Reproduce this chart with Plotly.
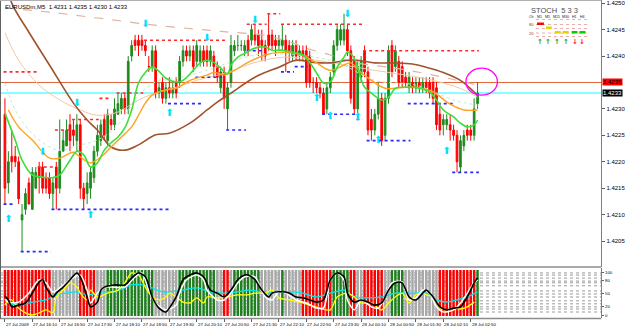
import plotly.graph_objects as go

W, H = 625, 327


def px(v):
    return v / W


def py(v):
    return 1 - v / H


# ---------------- candles (EURUSDm, M5) ----------------
bars = list(range(139))
opens = [
    1.4229, 1.4216, 1.4221, 1.4221, 1.4220, 1.4209, 1.4211, 1.4216, 1.4211, 1.4215,
    1.4219, 1.4219, 1.4217, 1.4217, 1.4214, 1.4219, 1.4215, 1.4222, 1.4223, 1.4227,
    1.4226, 1.4224, 1.4227, 1.4215, 1.4214, 1.4215, 1.4217, 1.4222, 1.4224, 1.4228,
    1.4224, 1.4228, 1.4227, 1.4229, 1.4230, 1.4232, 1.4230, 1.4240, 1.4243, 1.4243,
    1.4243, 1.4242, 1.4238, 1.4238, 1.4241, 1.4233, 1.4235, 1.4232, 1.4234, 1.4233,
    1.4235, 1.4235, 1.4239, 1.4241, 1.4240, 1.4241, 1.4239, 1.4239, 1.4241, 1.4241,
    1.4239, 1.4240, 1.4238, 1.4234, 1.4237, 1.4230, 1.4235, 1.4241, 1.4242, 1.4242,
    1.4241, 1.4243, 1.4243, 1.4244, 1.4244, 1.4243, 1.4242, 1.4244, 1.4244, 1.4243,
    1.4242, 1.4242, 1.4243, 1.4242, 1.4240, 1.4242, 1.4240, 1.4241, 1.4241, 1.4240,
    1.4235, 1.4235, 1.4234, 1.4233, 1.4230, 1.4234, 1.4237, 1.4242, 1.4243, 1.4243,
    1.4245, 1.4241, 1.4239, 1.4230, 1.4236, 1.4241, 1.4237, 1.4228, 1.4226, 1.4229,
    1.4232, 1.4225, 1.4232, 1.4242, 1.4238, 1.4239, 1.4238, 1.4236, 1.4234, 1.4235,
    1.4234, 1.4235, 1.4234, 1.4235, 1.4235, 1.4235, 1.4234, 1.4229, 1.4227, 1.4227,
    1.4227, 1.4226, 1.4225, 1.4219, 1.4223, 1.4226, 1.4226, 1.4225, 1.4231,
]
highs = [
    1.4232, 1.4222, 1.4226, 1.4223, 1.4221, 1.4212, 1.4215, 1.4217, 1.4219, 1.4219,
    1.4220, 1.4220, 1.4218, 1.4218, 1.4217, 1.4220, 1.4228, 1.4226, 1.4228, 1.4229,
    1.4228, 1.4229, 1.4228, 1.4216, 1.4218, 1.4219, 1.4223, 1.4227, 1.4228, 1.4229,
    1.4230, 1.4229, 1.4232, 1.4233, 1.4233, 1.4233, 1.4240, 1.4243, 1.4244, 1.4244,
    1.4244, 1.4243, 1.4240, 1.4242, 1.4242, 1.4235, 1.4236, 1.4235, 1.4236, 1.4235,
    1.4236, 1.4240, 1.4242, 1.4242, 1.4242, 1.4242, 1.4243, 1.4242, 1.4242, 1.4242,
    1.4242, 1.4241, 1.4239, 1.4238, 1.4238, 1.4235, 1.4244, 1.4243, 1.4244, 1.4243,
    1.4243, 1.4244, 1.4246, 1.4246, 1.4245, 1.4245, 1.4243, 1.4248, 1.4245, 1.4244,
    1.4244, 1.4246, 1.4244, 1.4243, 1.4243, 1.4243, 1.4242, 1.4242, 1.4242, 1.4241,
    1.4236, 1.4236, 1.4235, 1.4234, 1.4235, 1.4237, 1.4243, 1.4246, 1.4246, 1.4248,
    1.4246, 1.4242, 1.4240, 1.4239, 1.4240, 1.4242, 1.4238, 1.4230, 1.4230, 1.4235,
    1.4233, 1.4233, 1.4242, 1.4243, 1.4242, 1.4240, 1.4239, 1.4237, 1.4237, 1.4236,
    1.4236, 1.4236, 1.4236, 1.4236, 1.4236, 1.4236, 1.4235, 1.4231, 1.4229, 1.4229,
    1.4229, 1.4227, 1.4226, 1.4225, 1.4226, 1.4227, 1.4227, 1.4232, 1.4235,
]
lows = [
    1.4212, 1.4214, 1.4218, 1.4219, 1.4212, 1.4203, 1.4210, 1.4212, 1.4211, 1.4215,
    1.4214, 1.4214, 1.4214, 1.4213, 1.4211, 1.4211, 1.4214, 1.4222, 1.4223, 1.4222,
    1.4223, 1.4222, 1.4213, 1.4211, 1.4212, 1.4213, 1.4216, 1.4221, 1.4223, 1.4224,
    1.4223, 1.4226, 1.4226, 1.4229, 1.4229, 1.4229, 1.4229, 1.4239, 1.4241, 1.4240,
    1.4241, 1.4240, 1.4237, 1.4237, 1.4232, 1.4232, 1.4231, 1.4231, 1.4232, 1.4232,
    1.4232, 1.4234, 1.4238, 1.4239, 1.4239, 1.4237, 1.4238, 1.4238, 1.4238, 1.4238,
    1.4238, 1.4236, 1.4235, 1.4233, 1.4230, 1.4226, 1.4234, 1.4240, 1.4241, 1.4241,
    1.4240, 1.4240, 1.4242, 1.4242, 1.4240, 1.4239, 1.4239, 1.4241, 1.4241, 1.4240,
    1.4241, 1.4241, 1.4237, 1.4239, 1.4239, 1.4239, 1.4239, 1.4239, 1.4234, 1.4234,
    1.4233, 1.4233, 1.4232, 1.4229, 1.4229, 1.4233, 1.4236, 1.4241, 1.4242, 1.4242,
    1.4240, 1.4231, 1.4229, 1.4228, 1.4235, 1.4236, 1.4225, 1.4224, 1.4225, 1.4228,
    1.4223, 1.4224, 1.4231, 1.4236, 1.4237, 1.4234, 1.4234, 1.4234, 1.4233, 1.4233,
    1.4233, 1.4233, 1.4233, 1.4233, 1.4232, 1.4231, 1.4226, 1.4225, 1.4225, 1.4226,
    1.4224, 1.4224, 1.4218, 1.4218, 1.4222, 1.4224, 1.4224, 1.4224, 1.4230,
]
closes = [
    1.4215, 1.4220, 1.4220, 1.4220, 1.4213, 1.4210, 1.4214, 1.4212, 1.4218, 1.4218,
    1.4217, 1.4215, 1.4215, 1.4214, 1.4216, 1.4215, 1.4222, 1.4224, 1.4226, 1.4224,
    1.4225, 1.4227, 1.4215, 1.4213, 1.4216, 1.4218, 1.4222, 1.4225, 1.4227, 1.4225,
    1.4229, 1.4227, 1.4230, 1.4231, 1.4232, 1.4230, 1.4239, 1.4242, 1.4242, 1.4242,
    1.4242, 1.4241, 1.4238, 1.4241, 1.4233, 1.4234, 1.4232, 1.4234, 1.4233, 1.4234,
    1.4233, 1.4239, 1.4241, 1.4240, 1.4241, 1.4238, 1.4242, 1.4241, 1.4239, 1.4239,
    1.4241, 1.4238, 1.4236, 1.4237, 1.4232, 1.4234, 1.4242, 1.4242, 1.4242, 1.4242,
    1.4242, 1.4241, 1.4245, 1.4243, 1.4242, 1.4242, 1.4240, 1.4242, 1.4242, 1.4242,
    1.4243, 1.4243, 1.4241, 1.4241, 1.4242, 1.4240, 1.4241, 1.4240, 1.4235, 1.4235,
    1.4235, 1.4234, 1.4233, 1.4229, 1.4234, 1.4236, 1.4242, 1.4245, 1.4245, 1.4245,
    1.4241, 1.4232, 1.4230, 1.4238, 1.4239, 1.4237, 1.4226, 1.4226, 1.4229, 1.4232,
    1.4224, 1.4232, 1.4241, 1.4237, 1.4241, 1.4235, 1.4235, 1.4235, 1.4236, 1.4234,
    1.4235, 1.4234, 1.4235, 1.4234, 1.4233, 1.4232, 1.4227, 1.4226, 1.4228, 1.4228,
    1.4226, 1.4225, 1.4220, 1.4224, 1.4225, 1.4225, 1.4225, 1.4230, 1.4233,
]

# ---------------- moving averages (read at selected bars) ----------------
ma_fast_x = [0, 3, 5, 8, 11, 14, 16, 19, 21, 23, 25, 27, 29, 31, 33, 35, 37, 39, 41, 43,
             45, 47, 50, 52, 55, 57, 59, 61, 63, 65, 66, 68, 70, 73, 76, 78, 81, 84, 87, 89,
             91, 93, 95, 97, 99, 100, 102, 103, 105, 107, 110, 112, 114, 117, 121, 124, 126, 128, 131, 133,
             135, 137, 138]
ma_fast_y = [1.42292, 1.42241, 1.42203, 1.42175, 1.42171, 1.42170, 1.42175, 1.42203, 1.42220, 1.42213,
             1.42190, 1.42198, 1.42222, 1.42236, 1.42247, 1.42264, 1.42298, 1.42349, 1.42369, 1.42379,
             1.42371, 1.42358, 1.42351, 1.42354, 1.42373, 1.42387, 1.42392, 1.42388, 1.42377, 1.42366,
             1.42383, 1.42398, 1.42405, 1.42415, 1.42417, 1.42411, 1.42411, 1.42407, 1.42402, 1.42388,
             1.42368, 1.42349, 1.42351, 1.42379, 1.42398, 1.42407, 1.42396, 1.42377, 1.42341, 1.42330,
             1.42317, 1.42322, 1.42339, 1.42341, 1.42339, 1.42332, 1.42317, 1.42298, 1.42285, 1.42273,
             1.42266, 1.42270, 1.42279]

ma_mid_x = [1, 4, 8, 13, 16, 20, 22, 25, 28, 31, 34, 37, 39, 41, 43, 47, 50, 54, 59, 61,
            64, 67, 71, 76, 80, 85, 88, 91, 95, 99, 101, 104, 107, 111, 117, 120, 125, 130, 134, 138]
ma_mid_y = [1.42298, 1.42266, 1.42241, 1.42207, 1.42207, 1.42218, 1.42209, 1.42198, 1.42209, 1.42228,
            1.42247, 1.42266, 1.42288, 1.42311, 1.42326, 1.42336, 1.42339, 1.42354, 1.42364, 1.42369,
            1.42364, 1.42373, 1.42388, 1.42402, 1.42407, 1.42405, 1.42398, 1.42387, 1.42373, 1.42383,
            1.42387, 1.42369, 1.42354, 1.42339, 1.42341, 1.42341, 1.42332, 1.42309, 1.42298, 1.42298]

ma_tan_x = [0, 4, 10, 16, 22, 27, 33, 39, 45, 50, 56, 65, 73, 82, 91, 99, 108, 117, 125, 134, 138]
ma_tan_y = [1.42444, 1.42392, 1.42345, 1.42317, 1.42298, 1.42288, 1.42294, 1.42317, 1.42332, 1.42341,
            1.42354, 1.42369, 1.42388, 1.42398, 1.42392, 1.42383, 1.42373, 1.42364, 1.42354, 1.42336,
            1.42322]

ma_slow_x = [0, 2, 7, 13, 20, 24, 27, 31, 35, 39, 44, 48, 54, 59, 62, 66, 73, 80, 85, 90,
             95, 100, 103, 108, 112, 114, 119, 123, 128, 133, 137, 138]
ma_slow_y = [1.42550, 1.42500, 1.42445, 1.42383, 1.42311, 1.42279, 1.42260, 1.42228, 1.42222, 1.42232,
             1.42251, 1.42254, 1.42273, 1.42298, 1.42313, 1.42330, 1.42360, 1.42379, 1.42392, 1.42388,
             1.42387, 1.42392, 1.42392, 1.42387, 1.42387, 1.42387, 1.42385, 1.42379, 1.42369, 1.42354,
             1.42332, 1.42326]

ma_long_x = [0, 13, 27, 43, 59, 66, 75, 83, 88, 95, 102, 114, 125, 138]
ma_long_y = [1.42491, 1.42483, 1.42472, 1.42459, 1.42449, 1.42445, 1.42440, 1.42427, 1.42415, 1.42402,
             1.42388, 1.42377, 1.42364, 1.42345]

ma_faint_x = [0, 3, 7, 12, 16, 22, 27, 33, 39, 45, 50, 59, 73, 85, 97, 108, 120, 131, 138]
ma_faint_y = [1.42349, 1.42298, 1.42260, 1.42232, 1.42222, 1.42232, 1.42241, 1.42270, 1.42326, 1.42354,
              1.42358, 1.42373, 1.42402, 1.42402, 1.42388, 1.42354, 1.42345, 1.42317, 1.42307]

# ---------------- fractal resistance / support levels ----------------
res_start = [0, 10, 15, 20, 28, 33, 41, 71, 77, 81, 105]
res_end = [9, 14, 19, 27, 30, 40, 64, 76, 80, 104, 138]
res_price = [1.4237, 1.4219, 1.4226, 1.4228, 1.4232, 1.4233, 1.4243, 1.4246, 1.4248, 1.4246, 1.4241]

sup_start = [0, 5, 14, 48, 56, 65, 71, 81, 85, 93, 103, 106, 118, 131]
sup_end = [2, 13, 48, 57, 63, 70, 75, 84, 88, 102, 104, 118, 131, 138]
sup_price = [1.4212, 1.4203, 1.4211, 1.4231, 1.4236, 1.4226, 1.4241, 1.4237, 1.4238, 1.4229,
             1.4228, 1.4224, 1.4231, 1.4218]

# signal arrows
arrow_dn_bars = [11, 21, 41, 59, 73, 100]
arrow_dn_prices = [1.42218, 1.42311, 1.42459, 1.42434, 1.42468, 1.42478]
arrow_up_bars = [1, 25, 48, 91, 95, 103, 109, 129]
arrow_up_prices = [1.42090, 1.42098, 1.42292, 1.42319, 1.42285, 1.42283, 1.42241, 1.42220]

# horizontal price lines
alert_price = 1.4235
bid_price = 1.4233

# marked zone (ellipse)
ellipse_bar = [134.6, 143.8]
ellipse_price = [1.42326, 1.42377]

# axis labels (1.4235 is shown by the red alert box)
price_ticks = [1.4205, 1.4210, 1.4215, 1.4220, 1.4225, 1.4230, 1.4240, 1.4245, 1.4250]

time_label_bars = [0, 8, 16, 24, 32, 40, 48, 56, 64, 72, 80, 88, 96, 104, 112, 120, 128, 136]
time_labels = ["27 Jul 2009", "27 Jul 16:10", "27 Jul 16:50", "27 Jul 17:30", "27 Jul 18:10",
               "27 Jul 18:50", "27 Jul 19:30", "27 Jul 20:10", "27 Jul 20:50", "27 Jul 21:30",
               "27 Jul 22:10", "27 Jul 22:50", "27 Jul 23:30", "28 Jul 00:10", "28 Jul 00:50",
               "28 Jul 01:30", "28 Jul 02:10", "28 Jul 02:50"]

# ---------------- stochastic sub-window ----------------
zone_states = ["R", "N", "R", "N", "G", "N", "G", "N", "R", "N", "G", "N", "G", "N", "R", "G",
               "R", "N", "R", "N", "G", "N", "R", "G"]
zone_lengths = [14, 8, 5, 3, 14, 7, 11, 2, 2, 1, 8, 6, 1, 5, 9, 5, 2, 2, 6, 2, 4, 10, 11, 1]

stoch_black_x = [0, 1, 2, 4, 6, 8, 10, 11, 12, 14, 15, 17, 19, 21, 22, 24, 25, 27, 28, 29,
                 32, 35, 37, 39, 41, 43, 45, 47, 48, 50, 52, 54, 56, 58, 60, 62, 64, 66, 68, 70,
                 71, 73, 75, 77, 78, 80, 83, 85, 87, 89, 91, 93, 95, 97, 99, 100, 102, 104, 106, 108,
                 110, 112, 114, 116, 118, 120, 122, 123, 125, 127, 129, 131, 133, 135, 137, 138]
stoch_black = [44, 35, 19, 23, 28, 51, 77, 82, 65, 42, 51, 65, 82, 98, 89, 42, 19, 30, 58, 65,
               70, 70, 86, 98, 89, 42, 16, 7, 16, 42, 82, 93, 98, 89, 58, 51, 42, 58, 82, 93,
               93, 82, 58, 42, 51, 54, 51, 42, 40, 35, 30, 35, 82, 98, 89, 51, 30, 35, 30, 23,
               28, 58, 75, 75, 42, 35, 51, 58, 42, 19, 12, 16, 19, 42, 75, 86]

stoch_white_x = [0, 1, 4, 7, 10, 12, 14, 16, 19, 22, 24, 25, 27, 29, 31, 35, 38, 40, 42, 44,
                 47, 50, 51, 53, 56, 58, 59, 62, 64, 66, 68, 70, 73, 74, 76, 78, 80, 82, 85, 88,
                 91, 93, 95, 97, 99, 100, 102, 104, 107, 109, 111, 113, 116, 118, 120, 122, 124, 126, 128, 131,
                 133, 135, 137, 138]
stoch_white = [37, 30, 30, 51, 82, 75, 54, 63, 82, 93, 58, 28, 51, 65, 65, 65, 89, 98, 58, 28,
               12, 23, 51, 82, 93, 82, 58, 35, 35, 51, 75, 89, 89, 75, 42, 35, 54, 51, 35, 28,
               16, 16, 82, 98, 82, 35, 12, 35, 19, 16, 42, 75, 77, 35, 40, 58, 51, 19, 7, 12,
               28, 51, 75, 82]

stoch_yellow_x = [0, 1, 2, 4, 6, 8, 10, 12, 14, 15, 17, 19, 21, 22, 24, 25, 27, 30, 33, 35,
                  37, 39, 41, 43, 45, 47, 48, 50, 52, 54, 56, 58, 59, 62, 65, 68, 71, 73, 76, 78,
                  80, 83, 86, 89, 92, 95, 97, 100, 102, 104, 107, 110, 112, 114, 116, 118, 120, 122, 123, 125,
                  127, 129, 131, 133, 135, 137]
stoch_yellow = [23, 35, 35, 16, 5, 0, 5, 12, 5, 42, 58, 75, 65, 51, 35, 58, 42, 51, 58, 75,
                98, 93, 65, 42, 35, 42, 51, 42, 30, 28, 40, 28, 42, 40, 42, 47, 47, 51, 51, 58,
                40, 35, 30, 23, 16, 12, 42, 51, 42, 28, 28, 12, 28, 42, 51, 28, 47, 51, 47, 42,
                16, 12, 16, 14, 19, 30]

stoch_cyan_x = [0, 1, 4, 8, 12, 15, 18, 21, 24, 27, 29, 32, 35, 37, 40, 43, 46, 48, 52, 56,
                60, 64, 68, 71, 75, 79, 83, 87, 91, 95, 99, 102, 106, 110, 114, 117, 120, 123, 126, 129,
                132, 135, 138]
stoch_cyan = [33, 28, 23, 30, 35, 47, 51, 54, 47, 51, 54, 54, 63, 70, 70, 63, 54, 54, 58, 63,
              54, 51, 54, 58, 54, 51, 54, 51, 42, 51, 58, 42, 40, 42, 51, 51, 51, 51, 35, 30,
              35, 42, 54]

stoch_levels = [98, 93, 86, 79, 75, 68, 56, 49, 42, 33, 26, 19, 14, 7]
stoch_ticks = [100, 80, 50, 20, 0]

# ---------------- styles ----------------
X_RANGE = [-1.44, 174.1]
Y_RANGE = [1.42001, 1.42506]
S_RANGE = [-7, 109.5]
STRIPE_BASE, STRIPE_TOP = -2.3, 105
zone_color = {"R": "#ff0000", "G": "#1f7f1f", "N": "#a9a9a9"}
FONT = "Liberation Sans, Arial, sans-serif"

fig = go.Figure()


def segments(starts, ends, prices):
    xs, ys = [], []
    for s, e, p in zip(starts, ends, prices):
        xs += [s - 0.4, e + 0.4, None]
        ys += [p, p, None]
    return xs, ys


fig.add_trace(go.Scatter(x=ma_long_x, y=ma_long_y, mode="lines",
                         line=dict(color="#dcb4a0", width=1.2, dash="dash", shape="spline"),
                         xaxis="x", yaxis="y", hoverinfo="skip"))
fig.add_trace(go.Scatter(x=ma_faint_x, y=ma_faint_y, mode="lines",
                         line=dict(color="#c4eac4", width=1, dash="dot", shape="spline"),
                         xaxis="x", yaxis="y", hoverinfo="skip"))
fig.add_trace(go.Scatter(x=ma_tan_x, y=ma_tan_y, mode="lines",
                         line=dict(color="#f2c8a8", width=1, shape="spline"),
                         xaxis="x", yaxis="y", hoverinfo="skip"))

rx, ry = segments(res_start, res_end, res_price)
fig.add_trace(go.Scatter(x=rx, y=ry, mode="lines", line=dict(color="#ff2a2a", width=1.6, dash="dot"),
                         xaxis="x", yaxis="y", hoverinfo="skip"))
sx, sy = segments(sup_start, sup_end, sup_price)
fig.add_trace(go.Scatter(x=sx, y=sy, mode="lines", line=dict(color="#2a2aff", width=1.6, dash="dot"),
                         xaxis="x", yaxis="y", hoverinfo="skip"))

fig.add_trace(go.Candlestick(
    x=bars, open=opens, high=highs, low=lows, close=closes,
    increasing=dict(line=dict(color="#1f8a1f", width=1), fillcolor="#1f8a1f"),
    decreasing=dict(line=dict(color="#ff0000", width=1), fillcolor="#ff0000"),
    whiskerwidth=0, xaxis="x", yaxis="y", hoverinfo="skip"))

fig.add_trace(go.Scatter(x=ma_slow_x, y=ma_slow_y, mode="lines",
                         line=dict(color="#a0522d", width=1.6, shape="spline"),
                         xaxis="x", yaxis="y", hoverinfo="skip"))
fig.add_trace(go.Scatter(x=ma_mid_x, y=ma_mid_y, mode="lines",
                         line=dict(color="#ffa21f", width=1.4, shape="spline"),
                         xaxis="x", yaxis="y", hoverinfo="skip"))
fig.add_trace(go.Scatter(x=ma_fast_x, y=ma_fast_y, mode="lines",
                         line=dict(color="#3ae03a", width=1.6, shape="spline"),
                         xaxis="x", yaxis="y", hoverinfo="skip"))

fig.add_trace(go.Scatter(x=arrow_dn_bars, y=arrow_dn_prices, mode="text", text=["⬇"] * len(arrow_dn_bars),
                         textfont=dict(family="DejaVu Sans", size=10, color="#00e0ff"),
                         xaxis="x", yaxis="y", hoverinfo="skip"))
fig.add_trace(go.Scatter(x=arrow_up_bars, y=arrow_up_prices, mode="text", text=["⬆"] * len(arrow_up_bars),
                         textfont=dict(family="DejaVu Sans", size=10, color="#00e0ff"),
                         xaxis="x", yaxis="y", hoverinfo="skip"))

# stochastic window
zone_per_bar = []
for st, n in zip(zone_states, zone_lengths):
    zone_per_bar += [st] * n
fig.add_trace(go.Bar(x=bars, y=[STRIPE_TOP - STRIPE_BASE] * len(bars), base=STRIPE_BASE,
                     marker=dict(color=[zone_color[z] for z in zone_per_bar], line=dict(width=0)),
                     width=0.72, xaxis="x2", yaxis="y2", hoverinfo="skip"))
for xs, ys, col, wd in [(stoch_cyan_x, stoch_cyan, "#00e8e8", 1.3),
                        (stoch_yellow_x, stoch_yellow, "#ffff00", 1.3),
                        (stoch_white_x, stoch_white, "#ffffff", 1.5),
                        (stoch_black_x, stoch_black, "#000000", 1.6)]:
    fig.add_trace(go.Scatter(x=xs, y=ys, mode="lines", line=dict(color=col, width=wd, shape="spline", smoothing=0.8),
                             xaxis="x2", yaxis="y2", hoverinfo="skip"))

shapes = []
shapes.append(dict(type="line", xref="x", yref="y", x0=X_RANGE[0], x1=X_RANGE[1], y0=bid_price, y1=bid_price,
                   line=dict(color="#88ffff", width=2), layer="below"))
shapes.append(dict(type="line", xref="x", yref="y", x0=X_RANGE[0], x1=X_RANGE[1], y0=alert_price, y1=alert_price,
                   line=dict(color="#e0643c", width=1), layer="below"))
shapes.append(dict(type="circle", xref="x", yref="y", x0=ellipse_bar[0], x1=ellipse_bar[1],
                   y0=ellipse_price[0], y1=ellipse_price[1], line=dict(color="#ff00ff", width=1.3)))
for lv in stoch_levels:
    shapes.append(dict(type="line", xref="x2", yref="y2", x0=X_RANGE[0], x1=X_RANGE[1], y0=lv, y1=lv,
                       line=dict(color="#9a9a9a", width=1, dash="dot"), layer="below"))
frame = "#8c8c8c"
shapes += [
    dict(type="line", xref="paper", yref="paper", x0=0, x1=px(609), y0=py(267), y1=py(267), line=dict(color=frame, width=1.5)),
    dict(type="line", xref="paper", yref="paper", x0=0, x1=px(609), y0=py(318.5), y1=py(318.5), line=dict(color=frame, width=1.5)),
    dict(type="line", xref="paper", yref="paper", x0=px(0.5), x1=px(0.5), y0=py(318.5), y1=1, line=dict(color="#606060", width=1)),
    dict(type="line", xref="paper", yref="paper", x0=0, x1=px(609), y0=py(0.5), y1=py(0.5), line=dict(color="#b0b0b0", width=1)),
]

# STOCH widget (top right)
for yy in [19.5, 24.5, 28.5, 33, 36.5]:
    shapes.append(dict(type="line", xref="paper", yref="paper", x0=px(543), x1=px(596), y0=py(yy), y1=py(yy),
                       line=dict(color="#e8b0a8", width=1, dash="dot")))
for x0, x1, y0, col in [(544, 551, 22.5, "#ff0000"), (553, 559, 26.5, "#e6d400"), (562, 568, 31, "#e6d400"),
                        (570, 576, 31, "#e6d400"), (579, 585, 31, "#00d000"), (587, 593, 31, "#00d000")]:
    shapes.append(dict(type="rect", xref="paper", yref="paper", x0=px(x0), x1=px(x1), y0=py(y0 + 2.5), y1=py(y0),
                       fillcolor=col, line=dict(width=0)))

annotations = []
annotations.append(dict(text="EURUSDm,M5  1.4231 1.4235 1.4230 1.4233", x=px(3), y=py(2), xref="paper", yref="paper",
                        xanchor="left", yanchor="top", showarrow=False, font=dict(family=FONT, size=6, color="#000000")))
annotations.append(dict(text="STOCH  5 3 3", x=px(562), y=py(11), xref="paper", yref="paper", xanchor="center",
                        yanchor="middle", showarrow=False, font=dict(family=FONT, size=7.5, color="#505050")))
for lbl, xx in zip(["Ch", "M1", "M5", "M15", "M30", "H1", "H4"], [538, 547, 555, 564, 573, 582, 590]):
    annotations.append(dict(text=lbl, x=px(xx), y=py(17), xref="paper", yref="paper", xanchor="center",
                            yanchor="middle", showarrow=False, font=dict(family=FONT, size=3.6, color="#202020")))
for lbl, yy in [("80", 24.5), ("20", 33)]:
    annotations.append(dict(text=lbl, x=px(538), y=py(yy), xref="paper", yref="paper", xanchor="center",
                            yanchor="middle", showarrow=False, font=dict(family=FONT, size=4.2, color="#b03030")))
for sym, xx, col in [("↑", 547, "#1a9a1a"), ("↑", 555, "#1a9a1a"), ("↑", 564, "#1a9a1a"), ("↑", 573, "#1a9a1a"),
                     ("↓", 582, "#ff2020"), ("↓", 590, "#ff2020")]:
    annotations.append(dict(text="<b>" + sym + "</b>", x=px(xx), y=py(42), xref="paper", yref="paper", xanchor="center",
                            yanchor="middle", showarrow=False, font=dict(family="DejaVu Sans", size=7, color=col)))
annotations.append(dict(text="1.4235", x=px(610), y=alert_price, xref="paper", yref="y", xanchor="left", yanchor="middle",
                        showarrow=False, bgcolor="#ff0000", borderpad=0, font=dict(family=FONT, size=6, color="#000000")))
annotations.append(dict(text="1.4233", x=px(610), y=bid_price, xref="paper", yref="y", xanchor="left", yanchor="middle",
                        showarrow=False, bgcolor="#000000", borderpad=0, font=dict(family=FONT, size=6, color="#ffffff")))
for b, lbl in zip(time_label_bars, time_labels):
    annotations.append(dict(text=lbl, x=b, xref="x2", y=py(319.5), yref="paper", xanchor="left", yanchor="top",
                            xshift=-1, showarrow=False, font=dict(family=FONT, size=4.4, color="#000000")))

fig.update_layout(
    width=W, height=H, margin=dict(l=0, r=0, t=0, b=0),
    paper_bgcolor="#ffffff", plot_bgcolor="#ffffff", showlegend=False,
    boxgap=0.3,
    xaxis=dict(domain=[0, px(609)], range=X_RANGE, anchor="y", showgrid=False, zeroline=False,
               showticklabels=False, ticks="", rangeslider=dict(visible=False), fixedrange=True),
    yaxis=dict(domain=[py(267), 1], range=Y_RANGE, anchor="x", side="right", tickvals=price_ticks,
               ticktext=[f"{v:.4f}" for v in price_ticks], tickfont=dict(family=FONT, size=6, color="#000000"),
               ticks="outside", ticklen=3, tickcolor="#606060", showgrid=False, zeroline=False,
               showline=True, linecolor="#808080", linewidth=1),
    xaxis2=dict(domain=[0, px(609)], range=X_RANGE, anchor="y2", showgrid=False, zeroline=False,
                showticklabels=False, tickvals=time_label_bars, ticks="outside", ticklen=3, tickcolor="#606060"),
    yaxis2=dict(domain=[py(318), py(268)], range=S_RANGE, anchor="x2", side="right", tickvals=stoch_ticks,
                ticktext=[str(v) for v in stoch_ticks], tickfont=dict(family=FONT, size=4.3, color="#000000"),
                ticks="outside", ticklen=2, tickcolor="#606060", showgrid=False, zeroline=False,
                showline=True, linecolor="#808080", linewidth=1),
    shapes=shapes, annotations=annotations,
)

fig.write_html("out.html")
